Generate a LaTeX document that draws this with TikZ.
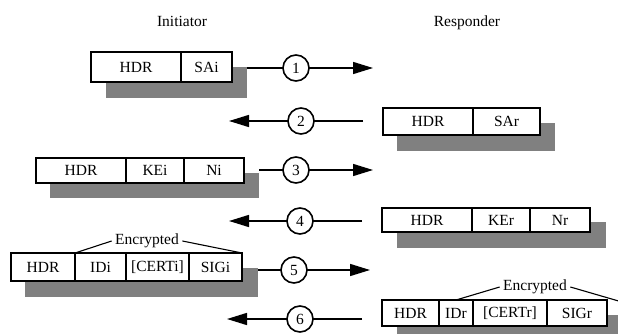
\documentclass[tikz,border=0pt]{standalone}
\usepackage{fontspec}
\setmainfont{Liberation Serif}
\usetikzlibrary{arrows.meta,backgrounds}
\begin{document}
\begin{tikzpicture}[x=1pt,y=-1pt,
  every node/.style={font=\fontsize{15.5}{18}\selectfont},
  cell/.style={draw, fill=white, line width=1.2pt, inner sep=0pt, outer sep=0pt, anchor=west},
  step circle/.style={draw, circle, line width=1.6pt, minimum size=26pt, inner sep=0pt, outer sep=0pt},
  conn/.style={line width=1.5pt},
  msg/.style={line width=1.5pt, -{Triangle[length=20pt,width=12pt]}},
  shadowfill/.style={fill=black!50},
  brace line/.style={line width=1.1pt}]
\useasboundingbox (0,0) rectangle (618,334);
\clip (0,0) rectangle (618,334);

% party labels
\node (ini) at (182,21) {Initiator};
\node (res) at (467,23) {Responder};

% message 1: HDR, SAi
\begin{scope}[every node/.append style={minimum height=30pt}]
\node[cell, minimum width=90pt] (a1) at (91,67) {HDR};
\node[cell, minimum width=51pt] (a2) at (a1.east) {SAi};
\end{scope}

% message 2: HDR, SAr
\begin{scope}[every node/.append style={minimum height=27pt}]
\node[cell, minimum width=90pt] (b1) at (383,121.5) {HDR};
\node[cell, minimum width=67pt] (b2) at (b1.east) {SAr};
\end{scope}

% message 3: HDR, KEi, Ni
\begin{scope}[every node/.append style={minimum height=25pt}]
\node[cell, minimum width=90pt] (c1) at (36,170.5) {HDR};
\node[cell, minimum width=58pt] (c2) at (c1.east) {KEi};
\node[cell, minimum width=60pt] (c3) at (c2.east) {Ni};
\end{scope}

% message 4: HDR, KEr, Nr
\begin{scope}[every node/.append style={minimum height=24pt}]
\node[cell, minimum width=90pt] (d1) at (382,220) {HDR};
\node[cell, minimum width=58pt] (d2) at (d1.east) {KEr};
\node[cell, minimum width=60pt] (d3) at (d2.east) {Nr};
\end{scope}

% message 5: HDR, IDi, [CERTi], SIGi
\begin{scope}[every node/.append style={minimum height=28pt}]
\node[cell, minimum width=64pt] (e1) at (11,267) {HDR};
\node[cell, minimum width=51pt] (e2) at (e1.east) {IDi};
\node[cell, minimum width=63pt] (e3) at (e2.east) {[CERTi]};
\node[cell, minimum width=53pt] (e4) at (e3.east) {SIGi};
\end{scope}

% message 6: HDR, IDr, [CERTr], SIGr
\begin{scope}[every node/.append style={minimum height=26pt}]
\node[cell, minimum width=57pt] (f1) at (382,313) {HDR};
\node[cell, minimum width=34pt] (f2) at (f1.east) {IDr};
\node[cell, minimum width=74pt] (f3) at (f2.east) {[CERTr]};
\node[cell, minimum width=60pt] (f4) at (f3.east) {SIGr};
\end{scope}

% drop shadows behind every message
\begin{scope}[on background layer]
\fill[shadowfill] ([shift={(15,15)}]a1.north west) rectangle ([shift={(15,16)}]a2.south east);
\fill[shadowfill] ([shift={(14,15)}]b1.north west) rectangle ([shift={(15,16)}]b2.south east);
\fill[shadowfill] ([shift={(14,15)}]c1.north west) rectangle ([shift={(15,15)}]c3.south east);
\fill[shadowfill] ([shift={(15,14)}]d1.north west) rectangle ([shift={(16,16)}]d3.south east);
\fill[shadowfill] ([shift={(14,15)}]e1.north west) rectangle ([shift={(16,16)}]e4.south east);
\fill[shadowfill] ([shift={(15,15)}]f1.north west) rectangle ([shift={(15,16)}]f4.south east);
\end{scope}

% step numbers
\node[step circle] (n1) at (296,68) {1};
\node[step circle] (n2) at (301,121) {2};
\node[step circle] (n3) at (296,170) {3};
\node[step circle] (n4) at (300,221) {4};
\node[step circle] (n5) at (294,270) {5};
\node[step circle] (n6) at (300,319) {6};

% line starts at the shadow edges, arrow tips and free ends
\coordinate (s1) at ([xshift=15]a2.east);
\coordinate (s3) at ([xshift=15]c3.east);
\coordinate (s5) at ([xshift=16]e4.east);
\coordinate (t1) at (373,68);
\coordinate (t2) at (229,121);
\coordinate (u2) at (363,121);
\coordinate (t3) at (373,170);
\coordinate (t4) at (229,221);
\coordinate (u4) at (362,221);
\coordinate (t5) at (370,270);
\coordinate (t6) at (227,319);
\coordinate (u6) at (362,319);

% initiator to responder
\draw[conn] (s1 |- n1) -- (n1.west);
\draw[msg] (n1.east) -- (t1);
\draw[conn] (s3 |- n3) -- (n3.west);
\draw[msg] (n3.east) -- (t3);
\draw[conn] (s5 |- n5) -- (n5.west);
\draw[msg] (n5.east) -- (t5);

% responder to initiator
\draw[conn] (u2) -- (n2.east);
\draw[msg] (n2.west) -- (t2);
\draw[conn] (u4) -- (n4.east);
\draw[msg] (n4.west) -- (t4);
\draw[conn] (u6) -- (n6.east);
\draw[msg] (n6.west) -- (t6);

% encrypted payload markers
\node (enc1) at (147,241) {Encrypted};
\coordinate (ei1) at (e2.north west);
\coordinate (ei2) at (e4.north east);
\draw[brace line] (ei1) -- (enc1.west);
\draw[brace line] (enc1.east) -- (ei2);

\node (enc2) at (535,287) {Encrypted};
\coordinate (er1) at (f2.north);
\coordinate (er2) at (622,302);
\draw[brace line] (er1) -- (enc2.west);
\draw[brace line] (enc2.east) -- (er2);
\end{tikzpicture}
\end{document}
